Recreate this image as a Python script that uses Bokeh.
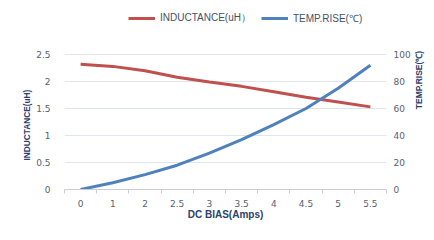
from bokeh.plotting import figure
from bokeh.layouts import row
from bokeh.models import Range1d, LinearAxis, FixedTicker, Legend, LegendItem, Title, Label
from bokeh.embed import file_html
from bokeh.resources import INLINE

x_labels = ["0", "1", "2", "2.5", "3", "3.5", "4", "4.5", "5", "5.5"]
inductance = [2.32, 2.28, 2.20, 2.08, 1.99, 1.91, 1.81, 1.71, 1.62, 1.53]
temp_rise = [0, 5, 11, 18, 27, 37, 48, 60, 75, 92]
left_ticks = [0, 0.5, 1, 1.5, 2, 2.5]
right_ticks = [0, 20, 40, 60, 80, 100]

xs = list(range(len(x_labels)))
RED = "#c0504d"
BLUE = "#4f81bd"
TICK_COLOR = "#595f6b"
TITLE_COLOR = "#2b3f6b"
GRID = "#dde5ef"

H, TOP, BOTTOM = 231, 10, 42
frame_h = H - TOP - BOTTOM
scale_h = 135  # pixels between 0 and the top tick
head = frame_h / scale_h
W_MAIN, W_SIDE = 413, 21

p = figure(width=W_MAIN, height=H, output_backend="svg", toolbar_location=None,
           x_range=Range1d(-0.5, len(x_labels) - 0.5),
           y_range=Range1d(0, left_ticks[-1] * head),
           min_border_left=64, min_border_right=25, min_border_top=TOP, min_border_bottom=BOTTOM)
p.extra_y_ranges = {"temp": Range1d(0, right_ticks[-1] * head)}
p.outline_line_color = None
p.background_fill_color = "white"
p.border_fill_color = "white"

# x axis
xa = p.xaxis[0]
xa.ticker = FixedTicker(ticks=xs, minor_ticks=[i - 0.5 for i in range(len(x_labels) + 1)])
xa.major_label_overrides = {i: lab for i, lab in enumerate(x_labels)}
xa.major_tick_out = 0
xa.major_tick_in = 0
xa.minor_tick_out = 4
xa.minor_tick_in = 0
xa.minor_tick_line_color = "#c8ced8"
xa.axis_line_color = "#c8ced8"
xa.major_label_text_font = "DejaVu Sans"
xa.major_label_text_font_size = "9px"
xa.major_label_text_color = TICK_COLOR
xa.major_label_standoff = 6
xa.axis_label = "DC BIAS(Amps)"
xa.axis_label_text_font = "Liberation Sans"
xa.axis_label_text_font_style = "bold"
xa.axis_label_text_font_size = "10px"
xa.axis_label_text_color = TITLE_COLOR
xa.axis_label_standoff = -1
p.xgrid.grid_line_color = None

# left axis
ya = p.yaxis[0]
ya.ticker = FixedTicker(ticks=left_ticks)
ya.axis_line_color = None
ya.major_tick_line_color = None
ya.minor_tick_line_color = None
ya.major_label_text_font = "DejaVu Sans"
ya.major_label_text_font_size = "9px"
ya.major_label_text_color = TICK_COLOR
ya.major_label_standoff = 8
p.ygrid.ticker = FixedTicker(ticks=left_ticks)
p.ygrid.grid_line_color = GRID

p.add_layout(Title(text="INDUCTANCE(uH)", align="left", offset=29, standoff=4,
                   text_font="Liberation Sans", text_font_style="bold",
                   text_font_size="8.3px", text_color=TITLE_COLOR), "left")

# right axis
ra = LinearAxis(y_range_name="temp", ticker=FixedTicker(ticks=right_ticks))
ra.axis_line_color = None
ra.major_tick_line_color = None
ra.minor_tick_line_color = None
ra.major_tick_out = 0
ra.major_tick_in = 0
ra.minor_tick_out = 0
ra.minor_tick_in = 0
ra.axis_label_standoff = 0
ra.major_label_text_font = "DejaVu Sans"
ra.major_label_text_font_size = "9px"
ra.major_label_text_color = TICK_COLOR
ra.major_label_standoff = 7
p.add_layout(ra, "right")

r1 = p.line(xs, inductance, line_color=RED, line_width=3)
r2 = p.line(xs, temp_rise, line_color=BLUE, line_width=3, y_range_name="temp")

legend = Legend(items=[LegendItem(label="INDUCTANCE(uH）", renderers=[r1]),
                       LegendItem(label="TEMP.RISE(℃)", renderers=[r2])],
                location=(64, 164), orientation="horizontal",
                background_fill_alpha=0, border_line_color=None,
                padding=0, margin=0, spacing=10,
                glyph_width=27, glyph_height=12, label_standoff=5,
                label_text_font="Liberation Sans", label_text_font_size="10px",
                label_text_color="#44506a")
p.add_layout(legend, "center")

# right-hand axis title (reads bottom to top, like the reference)
q = figure(width=W_SIDE, height=H, output_backend="svg", toolbar_location=None,
           x_axis_type=None, y_axis_type=None,
           min_border_left=0, min_border_right=0, min_border_top=0, min_border_bottom=0)
q.outline_line_color = None
q.xgrid.grid_line_color = None
q.ygrid.grid_line_color = None
q.add_layout(Label(x=5.5, y=H - 121.5, x_units="screen", y_units="screen",
                   text="TEMP.RISE(℃)", angle=90, angle_units="deg",
                   text_align="center", text_baseline="middle",
                   text_font="Liberation Sans", text_font_style="bold",
                   text_font_size="8.5px", text_color=TITLE_COLOR))

layout = row(p, q, spacing=0)
open("out.html", "w").write(file_html(layout, INLINE))
